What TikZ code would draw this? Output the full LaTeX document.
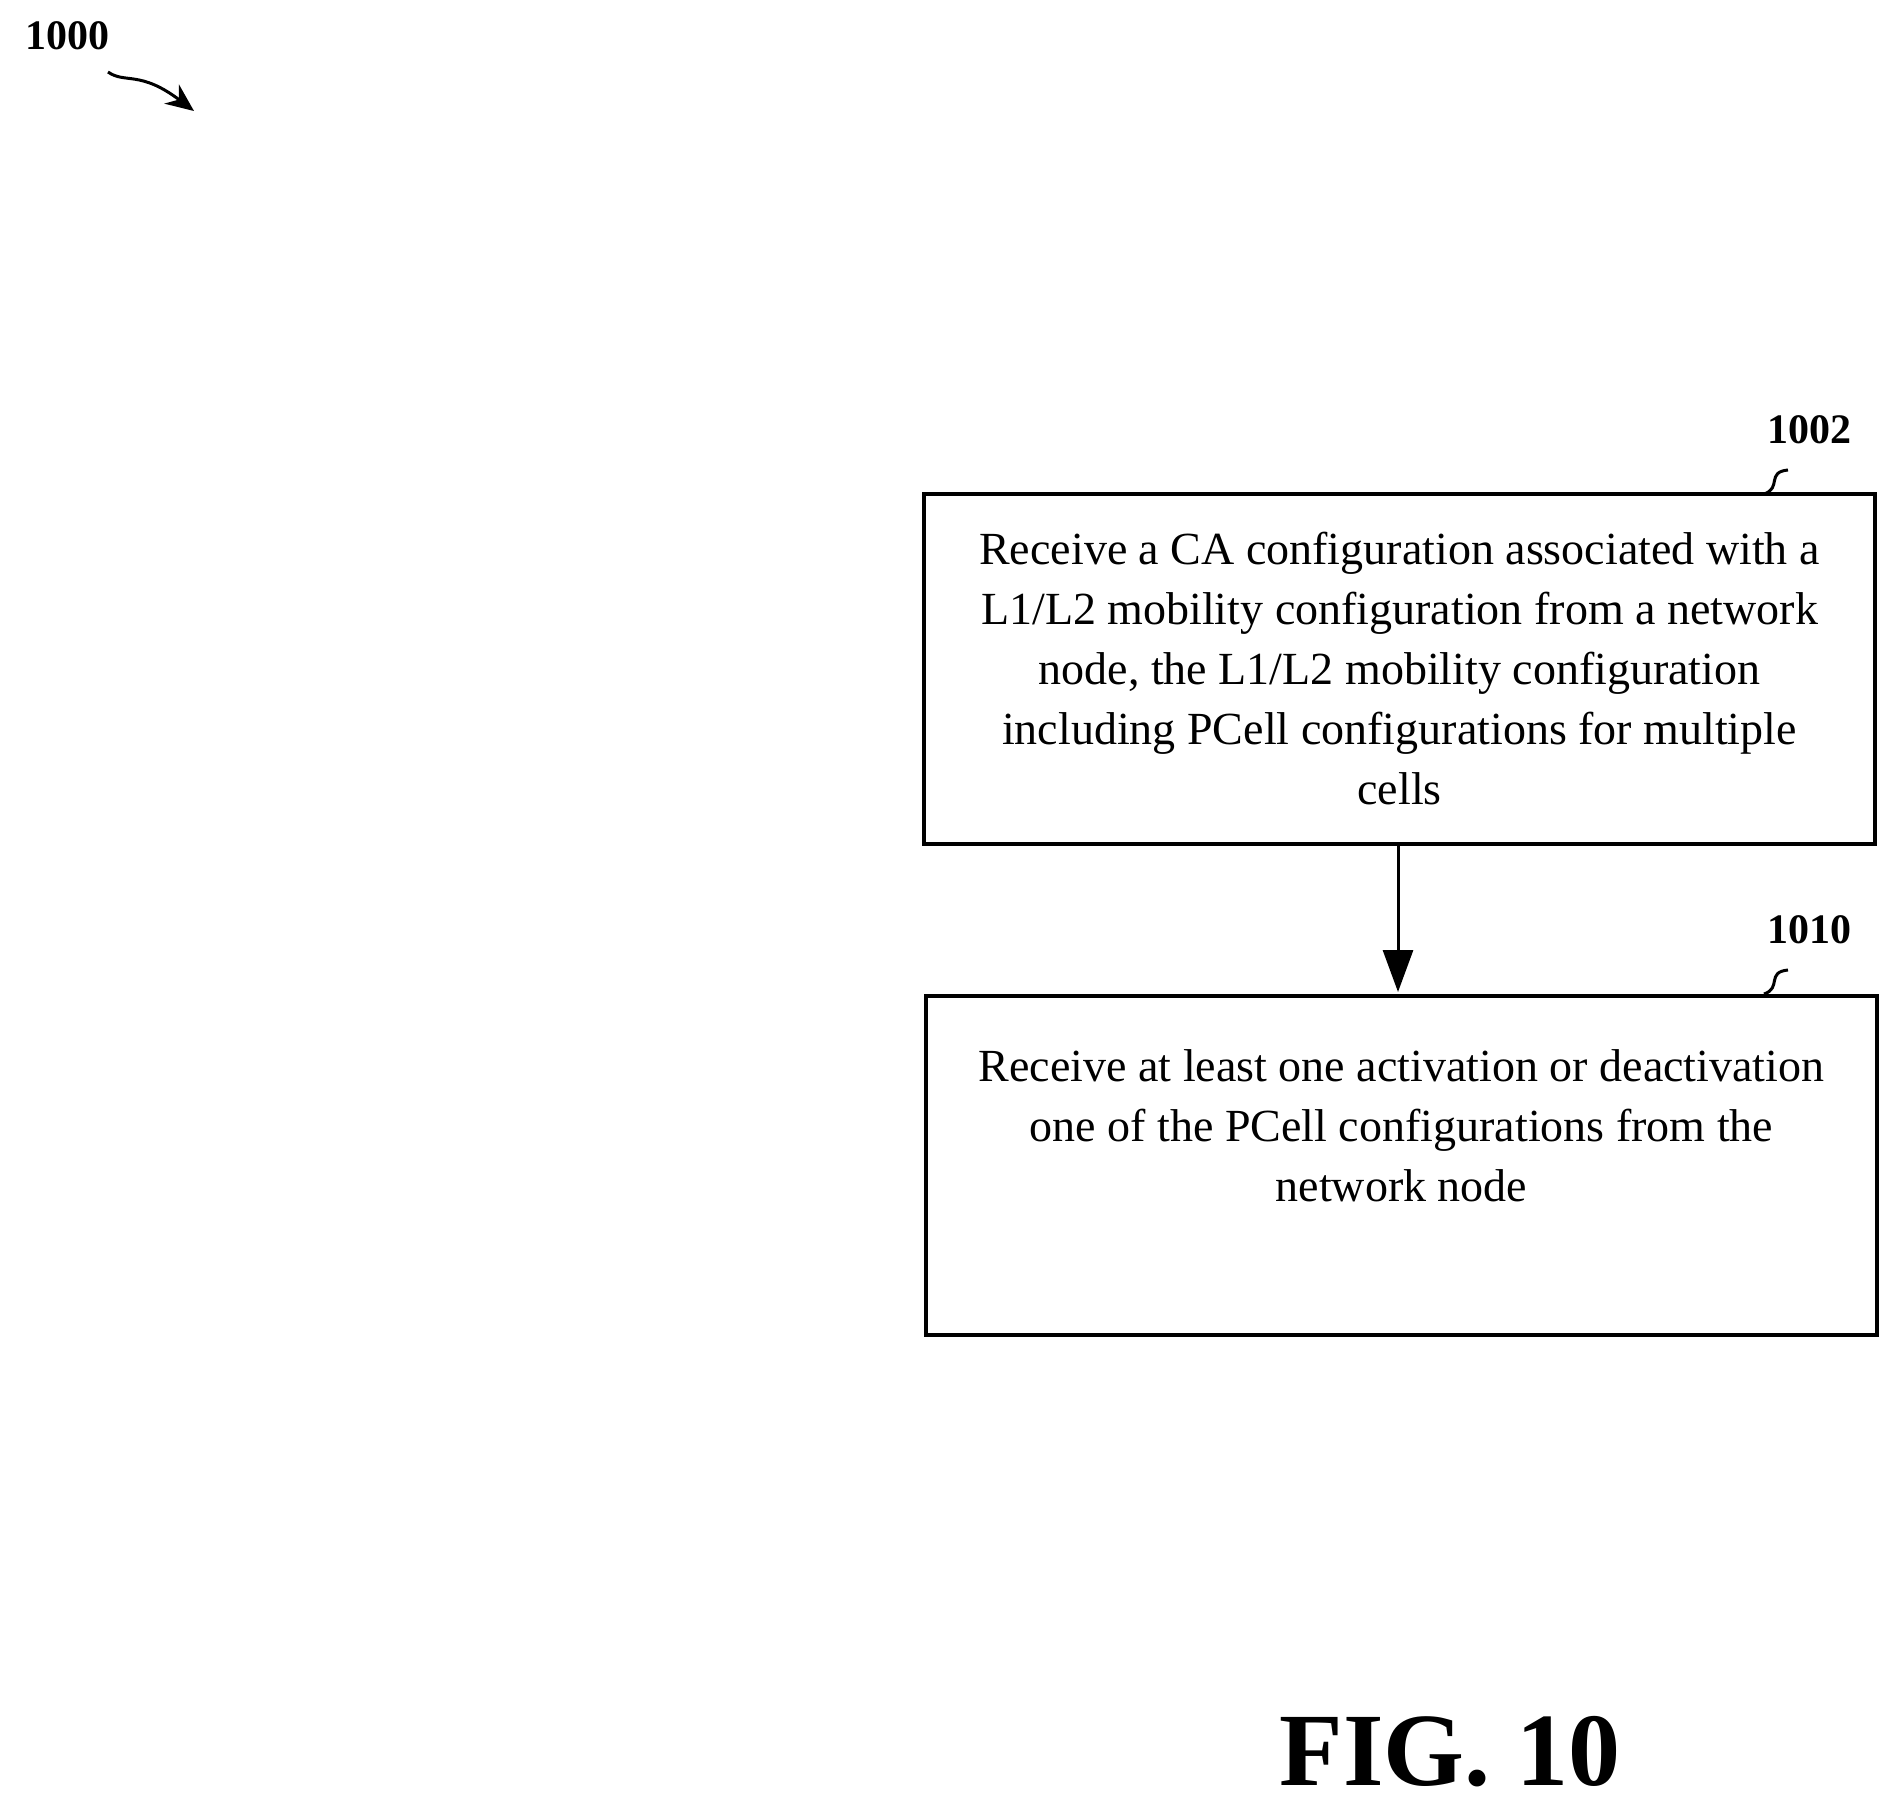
\documentclass[tikz,border=0pt]{standalone}
\usepackage{fontspec}
\setmainfont{Liberation Serif}
\usetikzlibrary{arrows.meta}
\begin{document}
\begin{tikzpicture}[x=1pt,y=-1pt,
 box/.style={draw,line width=3.2pt,align=center,font=\fontsize{46}{60}\selectfont},
 lab/.style={font=\bfseries\fontsize{42}{48}\selectfont},
 sq/.style={line width=3pt}]
\useasboundingbox (0,0) rectangle (1890,1810);
\node[box,minimum width=951,minimum height=350] (b1) at (1399.5,669) {Receive a CA configuration associated with a\\L1/L2 mobility configuration from a network\\node, the L1/L2 mobility configuration\\including PCell configurations for multiple\\cells};
\node[box,minimum width=951,minimum height=339] (b2) at (1401.5,1165.5) {Receive at least one activation or deactivation\\one of the PCell configurations from the\\network node\\[20pt]};
\draw[line width=3pt,-{Triangle[length=42pt,width=30pt]}] (b1.south -| 1398,0) -- (1398,992);
\node[lab] (l1) at (1809,430) {1002};
\node[lab] (l2) at (1809,930) {1010};
\node[lab] (l0) at (67,36) {1000};
\coordinate (c1) at (1764,494);
\coordinate (c2) at (1764,994);
\draw[sq] (1788,470) .. controls (1766,472) and (1782,488) .. (c1);
\draw[sq] (1788,970) .. controls (1766,972) and (1782,988) .. (c2);
\draw[line width=3pt,-{Stealth[length=28pt,width=24pt]}] (108,72) .. controls (125,84) and (140,70) .. (194,111);
\node[font=\bfseries\fontsize{104}{110}\selectfont] (fig) at (1450,1752) {FIG. 10};
\end{tikzpicture}
\end{document}
